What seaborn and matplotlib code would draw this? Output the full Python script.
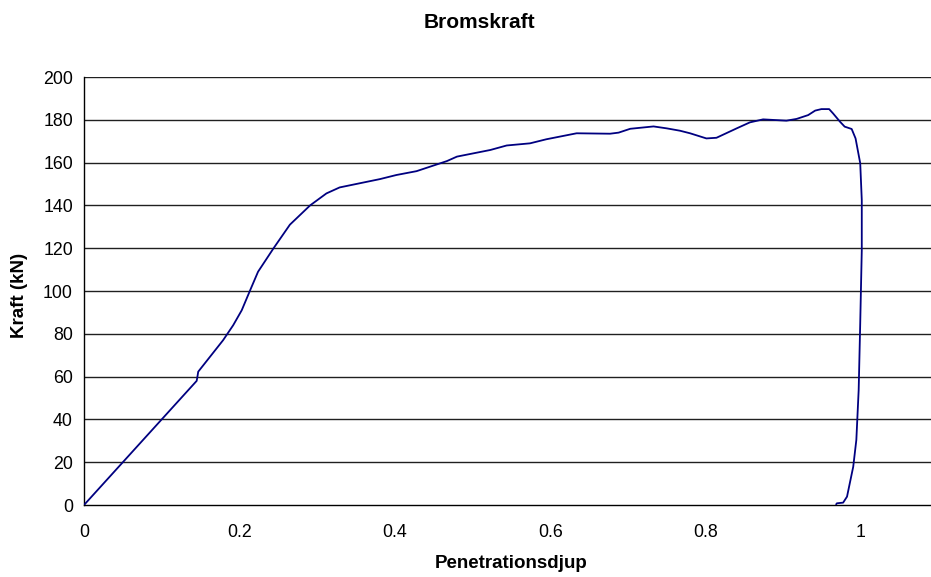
import matplotlib
matplotlib.use("Agg")
import matplotlib.pyplot as plt
import seaborn as sns
import pandas as pd

# Penetration depth (normalised) and braking force (kN) along the test run
depth = [0.000, 0.145, 0.146, 0.147, 0.179, 0.192, 0.203, 0.214, 0.224, 0.244,
         0.265, 0.291, 0.312, 0.329, 0.381, 0.402, 0.428, 0.467, 0.480, 0.523,
         0.544, 0.574, 0.595, 0.634, 0.677, 0.688, 0.703, 0.733, 0.750, 0.767,
         0.780, 0.801, 0.814, 0.840, 0.857, 0.874, 0.904, 0.917, 0.932, 0.941,
         0.949, 0.959, 0.964, 0.973, 0.979, 0.988, 0.993, 0.999, 1.001, 1.001,
         0.999, 0.997, 0.994, 0.990, 0.986, 0.982, 0.977, 0.969, 0.968]
force = [0.0, 58.0, 60.0, 62.3, 77.0, 84.0, 91.0, 100.5, 109.0, 120.0,
         131.0, 140.0, 145.6, 148.4, 152.3, 154.2, 156.0, 160.7, 162.8, 165.9,
         168.0, 169.0, 170.9, 173.7, 173.5, 174.0, 175.8, 176.9, 176.0, 174.9,
         173.7, 171.3, 171.6, 176.0, 178.8, 180.2, 179.6, 180.4, 182.2, 184.3,
         185.0, 185.0, 183.0, 179.1, 176.8, 175.7, 171.3, 159.7, 142.5, 119.0,
         84.9, 53.7, 30.4, 17.9, 10.9, 3.9, 1.1, 0.8, 0.3]

x_ticks = [0, 0.2, 0.4, 0.6, 0.8, 1]
x_tick_labels = ["0", "0.2", "0.4", "0.6", "0.8", "1"]
y_ticks = [0, 20, 40, 60, 80, 100, 120, 140, 160, 180, 200]

df = pd.DataFrame({"Penetrationsdjup": depth, "Kraft (kN)": force})

sns.set_style("white")
plt.rcParams["font.family"] = ["Liberation Sans", "DejaVu Sans"]
plt.rcParams["text.color"] = "black"
plt.rcParams["axes.labelcolor"] = "black"

fig = plt.figure(figsize=(9.31, 5.77), dpi=100)
ax = fig.add_axes([84 / 931, 72 / 577, 847 / 931, 428 / 577])

sns.lineplot(data=df, x="Penetrationsdjup", y="Kraft (kN)", sort=False,
             estimator=None, color="#000080", linewidth=1.3, ax=ax, zorder=3)

ax.set_xlim(0, 847 / 777)
ax.set_ylim(0, 200)
ax.set_xticks(x_ticks)
ax.set_xticklabels(x_tick_labels)
ax.set_yticks(y_ticks)

for yv in y_ticks[1:]:
    ax.axhline(yv, color="#202020", linewidth=1.0, zorder=1)

for side in ("top", "right"):
    ax.spines[side].set_visible(False)
for side in ("left", "bottom"):
    ax.spines[side].set_color("black")
    ax.spines[side].set_linewidth(1.0)

ax.tick_params(axis="both", direction="out", length=5, width=1.0,
               colors="black", labelcolor="black", labelsize=12.8)
ax.tick_params(axis="x", pad=9)
ax.tick_params(axis="y", pad=3)

ax.set_xlabel("")
ax.set_ylabel("")
fig.text(511 / 931, 1 - 564 / 577, "Penetrationsdjup", fontsize=13.5,
         fontweight="bold", ha="center", va="center", color="black")
fig.text(19 / 931, 1 - 295 / 577, "Kraft (kN)", rotation=90, fontsize=13.5,
         fontweight="bold", ha="center", va="center", color="black")
fig.text(479 / 931, 1 - 23 / 577, "Bromskraft", fontsize=15, fontweight="bold",
         ha="center", va="center", color="black")

fig.savefig("out.png", dpi=100)
